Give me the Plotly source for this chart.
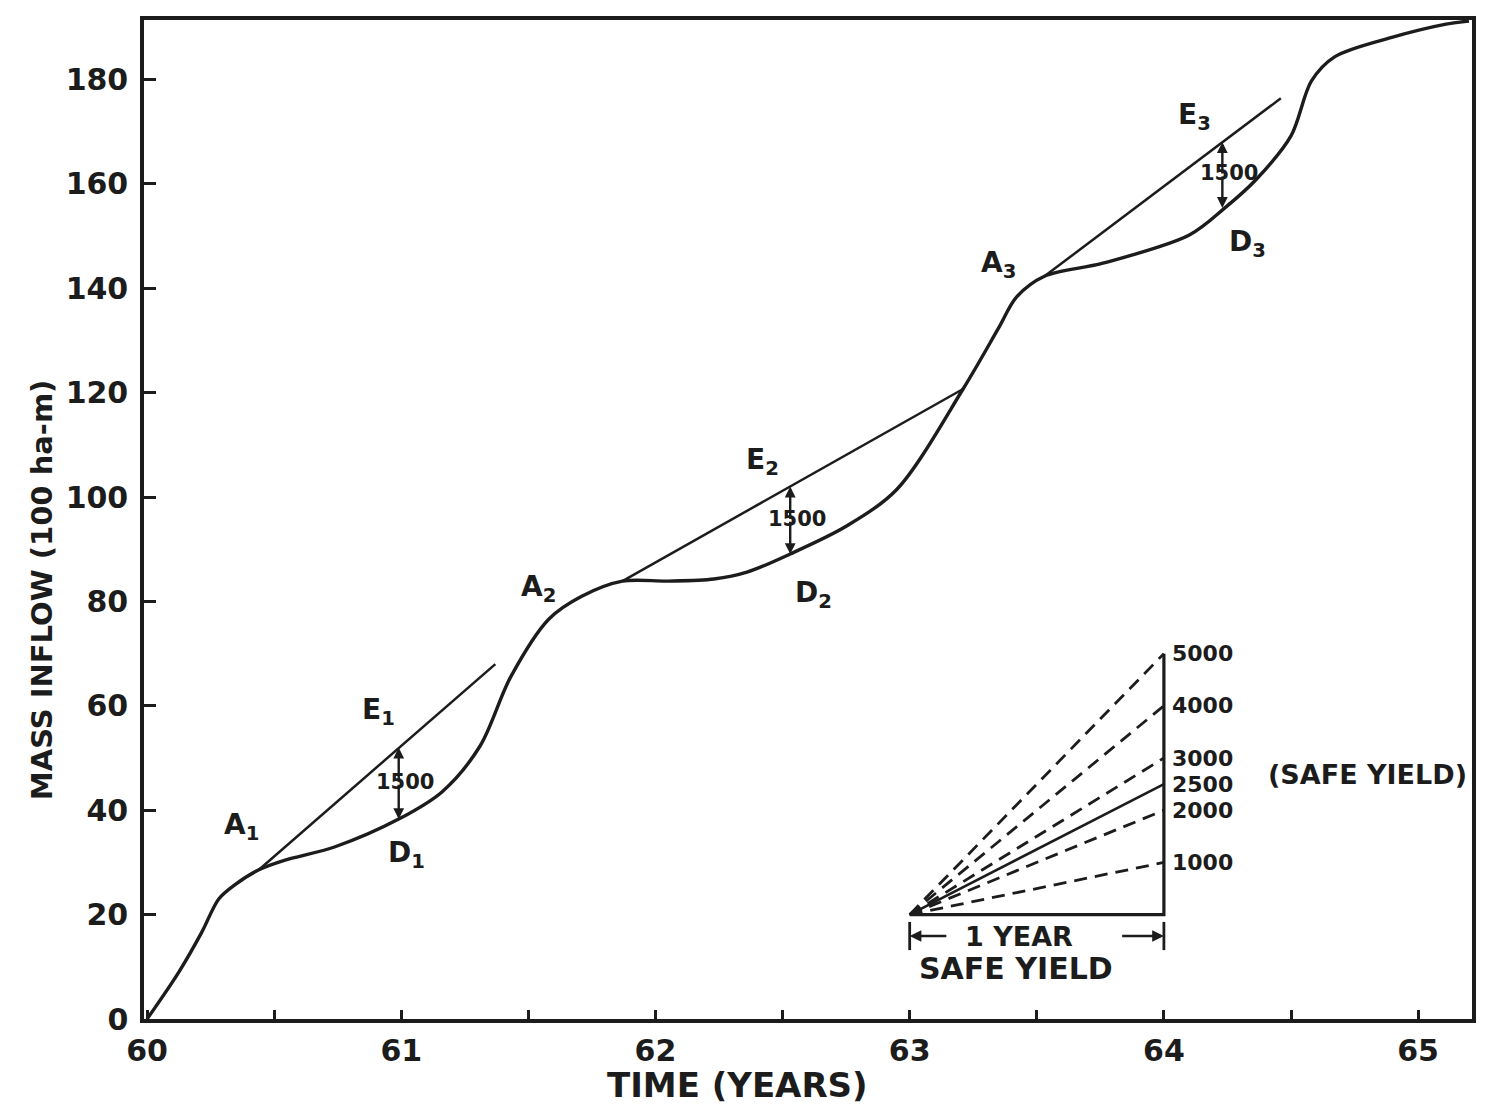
import plotly.graph_objects as go

# ---------------- data ----------------
# Mass (cumulative inflow) curve, time in years, inflow in 100 ha-m
MASS_T = [60.0, 60.125, 60.216, 60.282, 60.345, 60.44, 60.54, 60.74, 60.99, 61.16,
          61.31, 61.43, 61.58, 61.71, 61.87, 62.05, 62.23, 62.36, 62.53, 62.75,
          62.95, 63.21, 63.35, 63.42, 63.53, 63.76, 64.10, 64.24, 64.36, 64.50,
          64.58, 64.67, 64.90, 65.11, 65.20]
MASS_V = [0.0, 9.0, 16.7, 23.0, 25.7, 28.6, 30.4, 33.0, 38.3, 43.5,
          52.3, 65.5, 76.6, 81.0, 83.9, 83.9, 84.3, 85.6, 89.1, 94.4,
          101.5, 120.7, 132.4, 138.3, 142.3, 144.8, 150.2, 155.4, 160.7, 169.2,
          179.7, 184.3, 188.1, 190.6, 191.2]

# Demand (safe-yield) tangent lines A-E : start / end
LINE_T0 = [60.44, 61.87, 63.53]
LINE_V0 = [28.6, 83.9, 142.3]
LINE_T1 = [61.37, 63.21, 64.46]
LINE_V1 = [68.0, 120.7, 176.4]

# Storage requirement markers (E above, D below)
DEPL_T = [60.99, 62.53, 64.23]
DEPL_TOP = [52.0, 102.0, 168.0]
DEPL_BOT = [38.3, 89.1, 155.4]
DEPL_LABEL = ["1500", "1500", "1500"]

# Point labels
PT_NAMES = ["A<sub>1</sub>", "E<sub>1</sub>", "D<sub>1</sub>",
            "A<sub>2</sub>", "E<sub>2</sub>", "D<sub>2</sub>",
            "A<sub>3</sub>", "E<sub>3</sub>", "D<sub>3</sub>"]
PT_T = [60.37, 60.91, 61.02, 61.54, 62.42, 62.62, 63.35, 64.12, 64.33]
PT_V = [36.8, 59.0, 31.6, 82.4, 106.9, 81.4, 144.6, 173.0, 148.5]

# Inset: safe-yield rate lines (ha-m per year)
INSET_RATES = [1000, 2000, 3000, 4000, 5000]
SAFE_YIELD = 2500
INSET_T0 = 63.0
INSET_V0 = 20.0
INSET_SPAN = 1.0  # one year
RATE_UNIT = 100.0  # axis unit is 100 ha-m

X_TICKS = [60, 61, 62, 63, 64, 65]
X_TICKTEXT = ["60", "61", "62", "63", "64", "65"]
Y_TICKS = [0, 20, 40, 60, 80, 100, 120, 140, 160, 180]

INK = "#1c1c1c"
FONT = "DejaVu Sans"


def bfont(size):
    return dict(family=FONT, size=size, color=INK, weight="bold")


def arrow_ann(x, y, ax, ay, width=2.4):
    return dict(x=x, y=y, ax=ax, ay=ay, xref="x", yref="y", axref="x", ayref="y",
                text="", showarrow=True, arrowhead=2, arrowsize=0.9, arrowwidth=width,
                arrowcolor=INK)


fig = go.Figure()

# mass curve
fig.add_trace(go.Scatter(x=MASS_T, y=MASS_V, mode="lines",
                         line=dict(color=INK, width=3.4, shape="spline", smoothing=0.9),
                         hoverinfo="skip", showlegend=False, cliponaxis=False))

# demand lines
for t0, v0, t1, v1 in zip(LINE_T0, LINE_V0, LINE_T1, LINE_V1):
    fig.add_trace(go.Scatter(x=[t0, t1], y=[v0, v1], mode="lines",
                             line=dict(color=INK, width=2.5),
                             hoverinfo="skip", showlegend=False))

# inset
t_end = INSET_T0 + INSET_SPAN
top = INSET_V0 + max(INSET_RATES) / RATE_UNIT
fig.add_trace(go.Scatter(x=[INSET_T0, t_end, t_end], y=[INSET_V0, INSET_V0, top],
                         mode="lines", line=dict(color=INK, width=3.2),
                         hoverinfo="skip", showlegend=False))
for r in INSET_RATES:
    fig.add_trace(go.Scatter(x=[INSET_T0, t_end], y=[INSET_V0, INSET_V0 + r / RATE_UNIT],
                             mode="lines", line=dict(color=INK, width=2.8, dash="13px,8px"),
                             hoverinfo="skip", showlegend=False))
fig.add_trace(go.Scatter(x=[INSET_T0, t_end], y=[INSET_V0, INSET_V0 + SAFE_YIELD / RATE_UNIT],
                         mode="lines", line=dict(color=INK, width=2.6),
                         hoverinfo="skip", showlegend=False))

ann = []
# inset labels
for r in sorted(INSET_RATES + [SAFE_YIELD]):
    ann.append(dict(x=t_end + 0.025, y=INSET_V0 + r / RATE_UNIT, xref="x", yref="y",
                    text=str(r), showarrow=False, xanchor="left", yanchor="middle",
                    font=bfont(22)))
ann.append(dict(x=t_end + 0.40, y=INSET_V0 + 26.8, xref="x", yref="y", text="(SAFE YIELD)",
                showarrow=False, xanchor="left", yanchor="middle", font=bfont(27)))

# dimension: 1 YEAR
dim_v = INSET_V0 - 4.1
ann.append(arrow_ann(INSET_T0, dim_v, INSET_T0 + 0.15, dim_v, 2.6))
ann.append(arrow_ann(t_end, dim_v, t_end - 0.17, dim_v, 2.6))
for tx in (INSET_T0, t_end):
    fig.add_shape(type="line", x0=tx, x1=tx, y0=dim_v - 2.7, y1=dim_v + 2.7,
                  xref="x", yref="y", line=dict(color=INK, width=2.8))
ann.append(dict(x=INSET_T0 + 0.43, y=dim_v, xref="x", yref="y", text="1 YEAR",
                showarrow=False, font=bfont(27)))
ann.append(dict(x=INSET_T0 + 0.42, y=dim_v - 6.3, xref="x", yref="y", text="SAFE YIELD",
                showarrow=False, font=bfont(30)))

# point labels
for name, t, v in zip(PT_NAMES, PT_T, PT_V):
    ann.append(dict(x=t, y=v, xref="x", yref="y", text=name, showarrow=False,
                    font=bfont(28)))

# storage markers
for t, vt, vb, lab in zip(DEPL_T, DEPL_TOP, DEPL_BOT, DEPL_LABEL):
    mid = (vt + vb) / 2
    ann.append(arrow_ann(t, vt, t, mid, 2.4))
    ann.append(arrow_ann(t, vb, t, mid, 2.4))
    ann.append(dict(x=t + 0.025, y=mid + 0.3, xref="x", yref="y", text=lab, showarrow=False,
                    font=bfont(21)))

# axis titles
ann.append(dict(x=0.447, y=-0.066, xref="paper", yref="paper", text="TIME (YEARS)",
                showarrow=False, xanchor="center", yanchor="middle", font=bfont(34)))
ann.append(dict(x=-0.0767, y=0.4294, xref="paper", yref="paper",
                text="MASS INFLOW (100 ha-m)", textangle=-90, showarrow=False,
                xanchor="center", yanchor="middle", font=bfont(29)))

fig.update_layout(
    width=1471, height=1096,
    margin=dict(l=136, r=3, t=12, b=85),
    paper_bgcolor="white", plot_bgcolor="white",
    annotations=ann,
    font=dict(family=FONT, color=INK),
)
fig.update_xaxes(range=[59.988, 65.212], tickvals=X_TICKS, ticktext=X_TICKTEXT,
                 ticks="inside", ticklen=9, tickwidth=2.5, tickcolor=INK,
                 minor=dict(tick0=60, dtick=0.5, ticks="inside", ticklen=9,
                            tickwidth=2.5, tickcolor=INK, showgrid=False),
                 showline=True, linewidth=3.5, linecolor=INK, mirror=True,
                 showgrid=False, zeroline=False, ticklabelstandoff=2,
                 tickfont=bfont(30))
fig.update_yaxes(range=[0, 191.4], tickvals=Y_TICKS,
                 ticks="inside", ticklen=12, tickwidth=2.5, tickcolor=INK,
                 showline=True, linewidth=3.5, linecolor=INK, mirror=True,
                 showgrid=False, zeroline=False, ticklabelstandoff=6,
                 tickfont=bfont(30))

fig.write_html("out.html")
